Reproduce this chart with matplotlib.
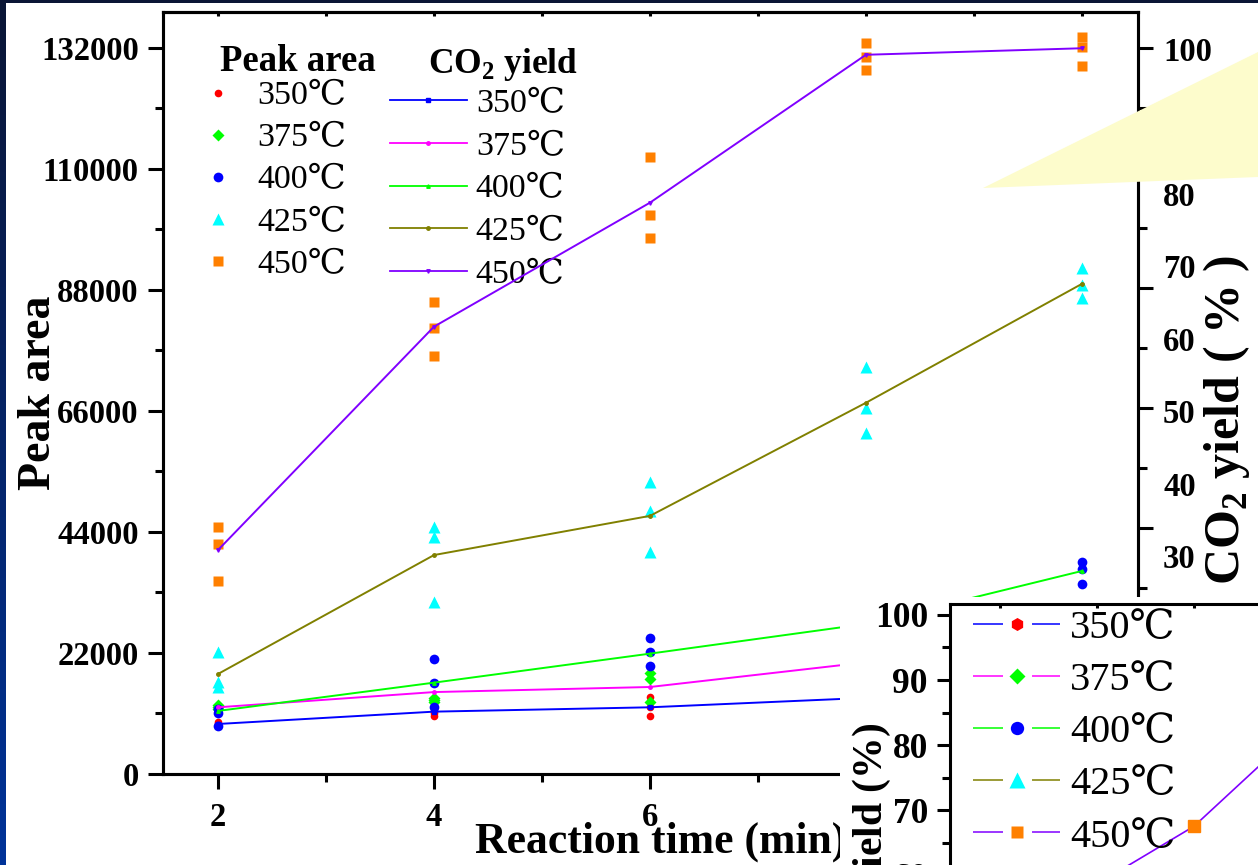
import numpy as np
import matplotlib.pyplot as plt
from matplotlib.lines import Line2D
from matplotlib.patches import Polygon, Rectangle
from matplotlib.colors import LinearSegmentedColormap
from matplotlib.legend_handler import HandlerTuple

W, H = 1258, 865
nan = np.nan

# reaction time (min)
times = [2, 4, 6, 8, 10]
temps = ['350℃', '375℃', '400℃', '425℃', '450℃']

# peak area, three replicates at each reaction time (nan = hidden in the picture)
area_350 = [[9500, 9100, 8800], [10500, 11100, 11500], [14000, 12200, 10500], [nan, nan, nan], [nan, nan, nan]]
area_375 = [[12500, 12200, 11900], [13800, 13400, 13000], [18400, 17300, 13100], [nan, nan, nan], [nan, nan, nan]]
area_400 = [[11800, 11100, 8700], [20900, 16500, 12200], [24700, 22200, 19600], [nan, nan, nan], [38500, 37300, 34500]]
area_425 = [[22200, 16700, 15800], [44900, 43100, 31300], [53100, 47800, 40400], [74000, 66500, 62000], [92000, 88900, 86500]]
area_450 = [[44900, 41800, 35100], [85800, 81100, 76000], [112200, 101600, 97500], [132900, 130400, 128000], [134000, 132200, 128700]]

# CO2 yield (%)
yield_350 = [6.9, 8.6, 9.2, 10.5, nan]
yield_375 = [9.2, 11.3, 12.0, 15.4, nan]
yield_400 = [8.7, 12.6, 16.6, 20.7, 28.0]
yield_425 = [13.8, 30.2, 35.6, 51.2, 67.6]
yield_450 = [30.9, 61.7, 78.8, 99.2, 100.1]

# overlapping second chart (only a corner is visible)
inset_x = [2, 3, 4]
inset_yield_450 = [58.6, 67.5, 81.3]

area_ticks = [0, 22000, 44000, 66000, 88000, 110000, 132000]
yield_ticks = [30, 40, 50, 60, 70, 80, 90, 100]

point_colors = ['#ff0000', '#00ff00', '#0000ff', '#00ffff', '#ff8000']
point_markers = ['o', 'D', 'o', '^', 's']
point_sizes = [5.5, 6, 7, 8, 6.5]
line_colors = ['#0000ff', '#ff00ff', '#00ff00', '#808000', '#8000ff']
line_markers = ['s', 'o', '^', 'o', 'v']

plt.rcParams['font.family'] = ['Liberation Serif', 'DejaVu Serif', 'Noto Sans CJK SC']
plt.rcParams['mathtext.fontset'] = 'custom'
plt.rcParams['mathtext.rm'] = 'Liberation Serif'
plt.rcParams['mathtext.bf'] = 'Liberation Serif:bold'
plt.rcParams['lines.scale_dashes'] = False


def box(l, t, r, b):
    # pixel box (from top-left) -> figure fraction rect
    return [l / W, 1 - b / H, (r - l) / W, (b - t) / H]


def bold(labels):
    for lab in labels:
        lab.set_fontweight('bold')


fig = plt.figure(figsize=(W / 100, H / 100), dpi=100)
fig.patch.set_facecolor('#0a1535')

# slide background
bg = fig.add_axes([0, 0, 1, 1], zorder=-10)
cmap = LinearSegmentedColormap.from_list('slide', ['#0a1535', '#003399'])
bg.imshow(np.linspace(0, 1, 256)[:, None], aspect='auto', cmap=cmap)
bg.axis('off')
fig.add_artist(Rectangle((6 / W, 0), 1, 1 - 3 / H, transform=fig.transFigure,
                         facecolor='white', edgecolor='none', zorder=-5))

# main chart
ax = fig.add_axes(box(163, 12, 1138, 774))
ax.set_xlim(1.49, 10.52)
ax.set_ylim(0, 138545)
for s in ax.spines.values():
    s.set_linewidth(2.2)

area_sets = [area_350, area_375, area_400, area_425, area_450]
for vals, c, m, ms, lab in zip(area_sets, point_colors, point_markers, point_sizes, temps):
    ax.plot(np.repeat(times, 3), np.ravel(vals), linestyle='none', marker=m,
            ms=ms, mfc=c, mec='none', label=lab)

ax.set_xticks(times)
ax.set_xticks([3, 5, 7, 9], minor=True)
ax.set_yticks(area_ticks)
ax.set_yticks([11000, 33000, 55000, 77000, 99000, 121000], minor=True)
ax.tick_params(axis='both', which='major', direction='out', length=10.5, width=2.2,
               labelsize=23.5, pad=7)
ax.tick_params(axis='x', which='major', pad=10)
ax.tick_params(axis='both', which='minor', direction='out', length=5.5, width=2.2)
bold(ax.get_xticklabels() + ax.get_yticklabels())

top = ax.secondary_xaxis('top')
top.set_xticks(range(2, 11))
top.tick_params(direction='in', length=3, width=2.2, labeltop=False)
top.spines['top'].set_linewidth(2.2)

ax.set_ylabel('Peak area', fontsize=33, fontweight='bold')
ax.yaxis.set_label_coords((60 - 163) / 975, 0.5)
ax.set_xlabel('Reaction time (min)', fontsize=31.5, fontweight='bold')
ax.xaxis.set_label_coords(0.51, (774 - 822) / 762)

leg1 = ax.legend(loc='upper left', bbox_to_anchor=(204.5 / W, 1 - 80.7 / H),
                 bbox_transform=fig.transFigure, frameon=False, borderpad=0,
                 borderaxespad=0, handlelength=0.8, handletextpad=0.74,
                 labelspacing=0.33, fontsize=24.5)
ax.add_artist(leg1)
line_handles = [Line2D([], [], color=c, lw=1.3, marker=m, ms=2.5)
                for c, m in zip(line_colors, line_markers)]
ax.legend(line_handles, temps, loc='upper left', bbox_to_anchor=(390 / W, 1 - 88.2 / H),
          bbox_transform=fig.transFigure, frameon=False, borderpad=0,
          borderaxespad=0, handlelength=2.26, handletextpad=0.26,
          labelspacing=0.35, fontsize=24.5)
fig.text(220 / W, 1 - 71 / H, 'Peak area', fontsize=26.5, fontweight='bold', va='baseline')
fig.text(428 / W, 1 - 73 / H, r'CO$_\mathbf{2}$ yield', fontsize=25.5, fontweight='bold',
         va='baseline')

# right axis: CO2 yield
ax2 = ax.twinx()
ax2.set_ylim(0, 105.1)
yield_sets = [yield_350, yield_375, yield_400, yield_425, yield_450]
for vals, c, m in zip(yield_sets, line_colors, line_markers):
    ax2.plot(times, vals, color=c, lw=1.4, marker=m, ms=2.5)
ax2.set_yticks(yield_ticks)
ax2.tick_params(axis='y', length=0, pad=18, labelsize=23.5)
bold(ax2.get_yticklabels())
for s in ax2.spines.values():
    s.set_linewidth(2.2)
ax2.text((1227 - 163) / 975, (774 - 420) / 762, r'CO$_\mathbf{2}$ yield ( % )',
         transform=ax2.transAxes, rotation=90, fontsize=36, fontweight='bold',
         ha='center', va='center')

# tick marks of the right axis (spaced differently from its labels in the picture)
ax3 = ax.twinx()
ax3.set_ylim(-0.1, 12.6)
ax3.set_yticks([4, 6, 8, 10, 12])
ax3.set_yticks([3, 5, 7, 9, 11], minor=True)
ax3.tick_params(axis='y', which='major', length=11, width=2.2, labelright=False)
ax3.tick_params(axis='y', which='minor', length=6.5, width=2.2, labelright=False)
for s in ax3.spines.values():
    s.set_visible(False)

# yellow callout of the slide
callout = [(983, 188), (1258, 52), (1258, 177)]
fig.add_artist(Polygon([(x / W, 1 - y / H) for x, y in callout], closed=True,
                       transform=fig.transFigure, facecolor='#fdfccc',
                       edgecolor='none', zorder=3))

# overlapping chart in the lower right corner
cover = fig.add_axes(box(840, 597, W, H), zorder=10)
cover.set_facecolor('white')
cover.set_xticks([])
cover.set_yticks([])
for s in cover.spines.values():
    s.set_visible(False)

ins = fig.add_axes(box(950, 604, 1500, 1100), zorder=11)
ins.set_facecolor('none')
ins.set_xlim(0.485, 6.155)
ins.set_ylim(25.4, 101.69)
for s in ins.spines.values():
    s.set_linewidth(2.2)
ins.plot(inset_x, inset_yield_450, color='#8000ff', lw=1.2, marker='s', ms=8.6,
         mfc='#ff8000', mec='#ff8000')
ins.set_yticks(yield_ticks)
ins.set_yticks([35, 45, 55, 65, 75, 85, 95], minor=True)
ins.tick_params(axis='y', which='major', direction='out', length=9.4, width=2.2,
                labelsize=25.5, pad=6.5)
ins.tick_params(axis='y', which='minor', direction='out', length=6, width=2.2)
bold(ins.get_yticklabels())
ins.set_xticks([1, 2, 3, 4, 5, 6])
ins.tick_params(axis='x', bottom=False, top=True, labelbottom=False, direction='in',
                length=3, width=2.2)
fig.text(872 / W, 1 - 723 / H, r'CO$_\mathbf{2}$ yield (%)', rotation=90, fontsize=30,
         fontweight='bold', ha='center', va='top', zorder=12)

inset_markers = ['h', 'D', 'o', '^', 's']
inset_msizes = [9.4, 8.5, 9.6, 11, 8.6]
inset_handles = []
for lc, pc, m, ms in zip(line_colors, point_colors, inset_markers, inset_msizes):
    dash = Line2D([], [], color=lc, lw=1.1, linestyle=(0, (21.6, 20.9)))
    mark = Line2D([], [], linestyle='none', marker=m, ms=ms, mfc=pc, mec='none')
    inset_handles.append((dash, mark))
ins.legend(inset_handles, temps, handler_map={tuple: HandlerTuple(ndivide=1, pad=0)},
           loc='upper left', bbox_to_anchor=(973 / W, 1 - 610 / H),
           bbox_transform=fig.transFigure, frameon=False, borderpad=0,
           borderaxespad=0, handlelength=2.16, handletextpad=0.25,
           labelspacing=0.37, fontsize=29)

fig.savefig('out.png', dpi=100)
